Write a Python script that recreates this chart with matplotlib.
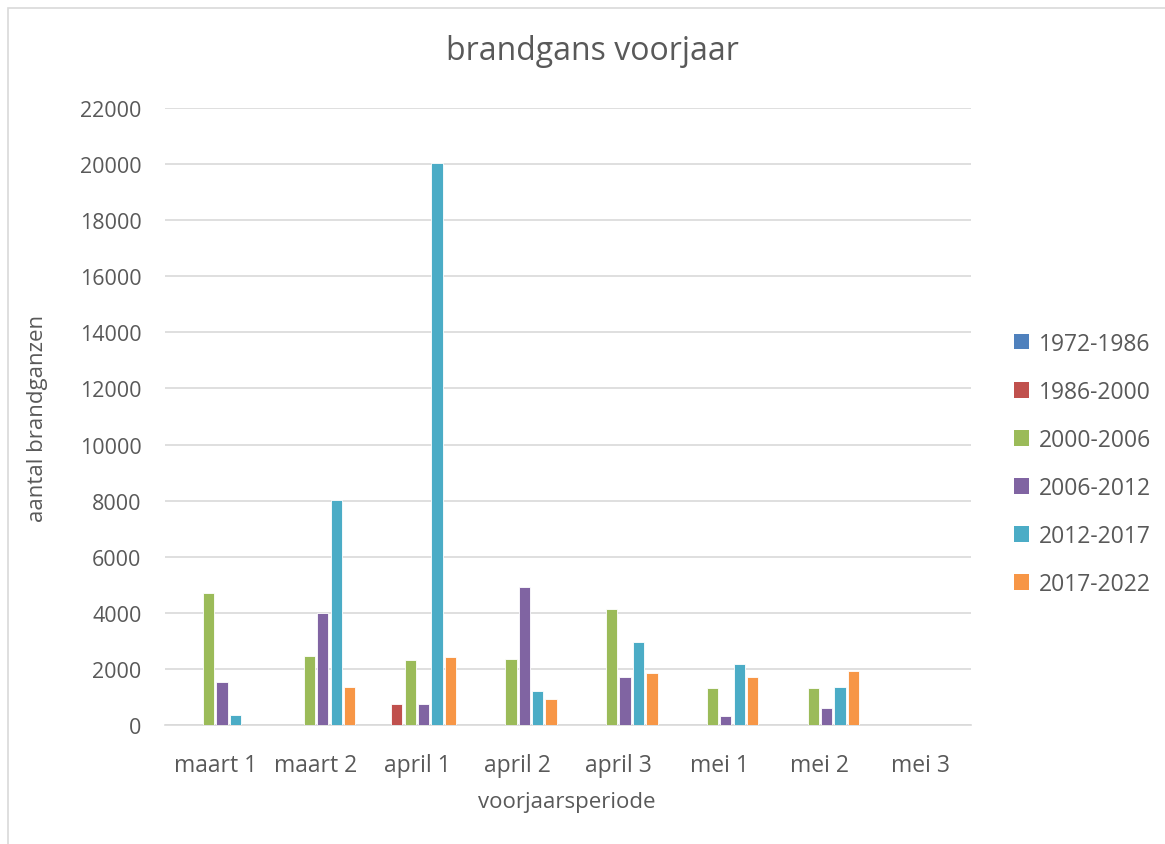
import numpy as np
import matplotlib.pyplot as plt
from matplotlib.patches import Rectangle, Patch

periodes = ['maart 1', 'maart 2', 'april 1', 'april 2', 'april 3', 'mei 1', 'mei 2', 'mei 3']
reeksen = ['1972-1986', '1986-2000', '2000-2006', '2006-2012', '2012-2017', '2017-2022']
kleuren = ['#4F81BD', '#C0504D', '#9BBB59', '#8064A2', '#4BACC6', '#F79646']

w_1972 = [0, 0, 0, 0, 0, 0, 0, 0]
w_1986 = [0, 0, 750, 0, 0, 0, 0, 0]
w_2000 = [4700, 2470, 2320, 2350, 4130, 1320, 1310, 0]
w_2006 = [1550, 4000, 740, 4930, 1710, 310, 595, 0]
w_2012 = [360, 8030, 20050, 1225, 2950, 2160, 1340, 0]
w_2017 = [0, 1355, 2415, 930, 1840, 1700, 1910, 0]
waarden = [w_1972, w_1986, w_2000, w_2006, w_2012, w_2017]

plt.rcParams['font.family'] = ['Open Sans', 'DejaVu Sans']
tekst = '#595959'

W, H = 1165, 845
fig = plt.figure(figsize=(W / 100, H / 100), dpi=100)
ax = fig.add_axes([165 / W, 1 - 726 / H, 806 / W, 617 / H])

# rand om de grafiek
fig.patches.append(Rectangle((8 / W, -0.1), 1.2, (H - 9) / H + 0.1,
                             transform=fig.transFigure, fill=False,
                             edgecolor='#D9D9D9', linewidth=1.2))

x = np.arange(len(periodes))
stap = 0.133
breedte = 0.112
for i, (naam, vals, kleur) in enumerate(zip(reeksen, waarden, kleuren)):
    ax.bar(x + (i - 2.5) * stap, vals, breedte, color=kleur, label=naam,
           edgecolor='white', linewidth=0.6, zorder=3)

ax.set_xlim(-0.5, len(periodes) - 0.5)
ax.set_ylim(0, 22000)
ax.set_yticks(range(0, 22001, 2000))
ax.set_xticks(x)
ax.set_xticklabels(periodes)
ax.yaxis.grid(True, color='#D9D9D9', linewidth=1.2, zorder=0)
ax.set_axisbelow(True)
for s in ['top', 'right', 'left']:
    ax.spines[s].set_visible(False)
ax.spines['bottom'].set_color('#D9D9D9')
ax.spines['bottom'].set_linewidth(1.2)
ax.tick_params(length=0, colors=tekst)
ax.tick_params(axis='x', pad=20, labelsize=16.5)
ax.tick_params(axis='y', pad=17, labelsize=15.5)

fig.text(592 / W, 1 - 52 / H, 'brandgans voorjaar', fontsize=23, color=tekst,
         ha='center', va='center')
fig.text(567 / W, 1 - 803 / H, 'voorjaarsperiode', fontsize=16, color=tekst,
         ha='center', va='center')
fig.text(38 / W, 1 - 418 / H, 'aantal brandganzen', fontsize=16, color=tekst,
         ha='center', va='center', rotation=90)

handles = [Patch(facecolor=k, edgecolor='none') for k in kleuren]
fig.legend(handles, reeksen, loc='center left', bbox_to_anchor=(993 / W, 1 - 465 / H),
           frameon=False, fontsize=16.5, labelcolor=tekst, handlelength=0.65, handleheight=0.65,
           handletextpad=0.45, labelspacing=1.05)

fig.savefig('out.png', dpi=100)
